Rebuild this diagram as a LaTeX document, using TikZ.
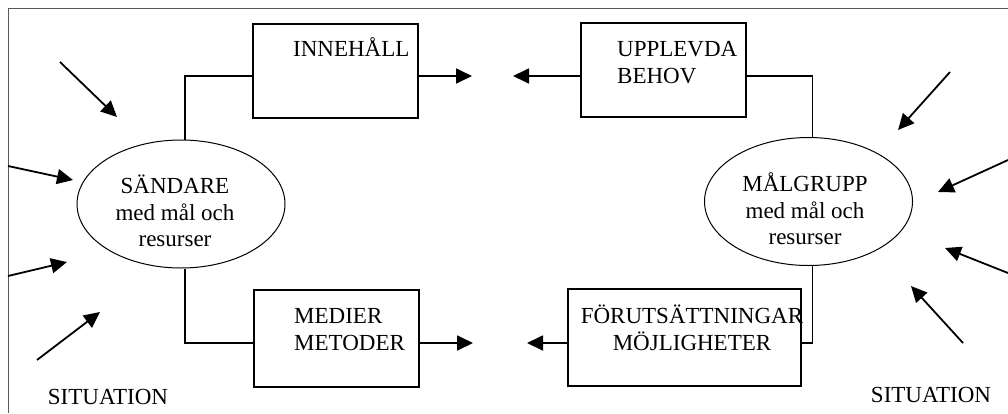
\documentclass[tikz,border=0pt]{standalone}
\usepackage{fontspec}
\setmainfont{Liberation Serif}
\usetikzlibrary{arrows.meta,shapes.geometric}

\tikzset{
  ruta/.style={draw, line width=1.5pt, minimum width=165pt, minimum height=94pt, inner sep=0pt},
  boll/.style={draw, ellipse, line width=1pt, minimum width=208pt, minimum height=128pt, inner sep=0pt},
  txt/.style={inner sep=0pt, font=\fontsize{23}{26.5}\selectfont},
  pil/.style={-{Triangle[length=16pt,width=15pt]}, line width=1.8pt},
  forb/.style={line width=1.5pt}
}

\begin{document}
\begin{tikzpicture}[x=1pt,y=-1pt]
  \useasboundingbox (0,0) rectangle (1008,413);
  \draw[black!65, line width=1pt] (8,413) -- (8,8) -- (1008,8);

  % sändare och målgrupp
  \node[boll] (saendare) at (181,204) {};
  \node[boll] (malgrupp) at (808.5,201.5) {};
  \node[txt, align=center] (saendaretext) at (175,211) {SÄNDARE\\med mål och\\resurser};
  \node[txt, align=center] (malgrupptext) at (805,209) {MÅLGRUPP\\med mål och\\resurser};

  % rutorna
  \node[ruta] (innehall) at (335.5,71) {};
  \node[ruta] (behov)    at (663.5,70) {};
  \node[ruta, minimum height=97pt] (medier) at (336.5,338.5) {};
  \node[ruta, minimum width=233pt, minimum height=97pt] (mojlighet) at (684.5,337.5) {};

  % base ligger på sista raden
  \node[txt, anchor=base west] (innehalltext) at (293,56) {INNEHÅLL};
  \node[txt, anchor=base west, align=left] (behovtext) at (617,83) {UPPLEVDA\\BEHOV};
  \node[txt, anchor=base west, align=left] (medietext) at (294,350) {MEDIER\\METODER};
  \node[txt, anchor=base, align=center] (mojlighettext) at (692,350) {FÖRUTSÄTTNINGAR\\MÖJLIGHETER};

  % pilarnas lösa ändar
  \coordinate (pilA) at (472,76);
  \coordinate (pilB) at (513,76);
  \coordinate (pilC) at (473,343);
  \coordinate (pilD) at (527,343);

  \draw[pil] (innehall.east |- pilA) -- (pilA);
  \draw[pil] (behov.west |- pilB) -- (pilB);
  \draw[pil] (medier.east |- pilC) -- (pilC);
  \draw[pil] (mojlighet.west |- pilD) -- (pilD);

  % förbindelser
  \draw[forb] ([xshift=4pt]saendare.north) |- (innehall.west |- pilA);
  \draw[forb] ([xshift=4pt]saendare.south) |- (medier.west |- pilC);
  \draw[forb] ([xshift=4pt]malgrupp.north) |- (behov.east |- pilB);
  \draw[forb] ([xshift=4pt]malgrupp.south) |- (mojlighet.east |- pilD);

  % situationen påverkar
  \coordinate (s1) at (60,62);    \coordinate (t1) at (117,117);
  \coordinate (s2) at (8,166);    \coordinate (t2) at (73,180);
  \coordinate (s3) at (8,276);    \coordinate (t3) at (67,262);
  \coordinate (s4) at (37,360);   \coordinate (t4) at (100,312);
  \coordinate (s5) at (950,72);   \coordinate (t5) at (898,130);
  \coordinate (s6) at (1008,160); \coordinate (t6) at (938,192);
  \coordinate (s7) at (1008,273); \coordinate (t7) at (945,248);
  \coordinate (s8) at (963,343);  \coordinate (t8) at (911,286);

  \foreach \i in {1,...,8}
    \draw[pil] (s\i) -- (t\i);

  \node[txt] (situationv) at (108,397) {SITUATION};
  \node[txt] (situationh) at (931,395) {SITUATION};
\end{tikzpicture}
\end{document}
